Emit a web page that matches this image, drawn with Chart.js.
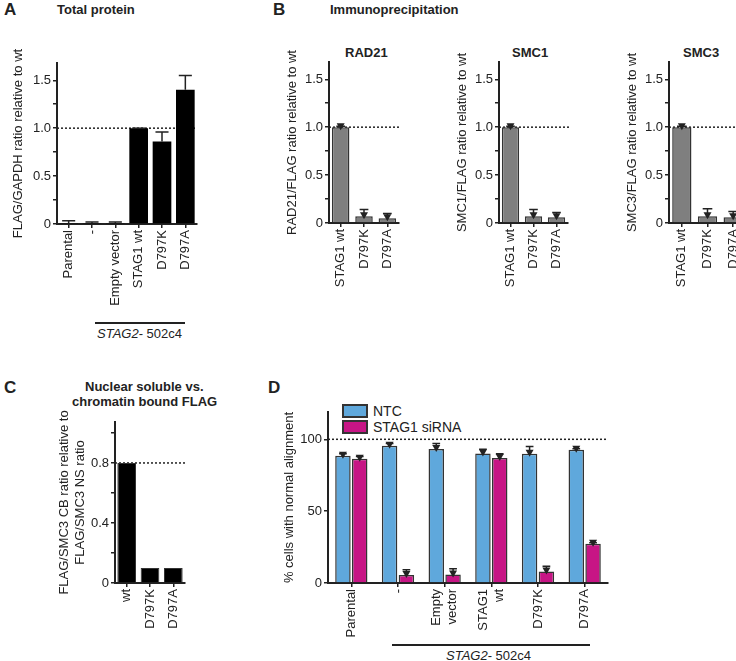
<!DOCTYPE html>
<html>
<head>
<meta charset="utf-8">
<script src="https://cdn.jsdelivr.net/npm/chart.js@4.4.1/dist/chart.umd.min.js"></script>
<style>
  body { margin: 0; width: 736px; height: 661px; position: relative; overflow: hidden; background: #fff;
         font-family: "Liberation Sans", Arial, sans-serif; color: #222; }
  canvas { position: absolute; }
  .t { position: absolute; white-space: nowrap; font-size: 13px; }
  .b { font-weight: bold; }
  .letter { position: absolute; font-weight: bold; font-size: 17px; }
  .rule { position: absolute; height: 1.5px; background: #222; }
  .lg { position: absolute; font-size: 14px; line-height: 15px; }
  .sw { display: inline-block; width: 22px; height: 10px; border: 2px solid #333; vertical-align: -2px; margin-right: 5px; }
</style>
</head>
<body>

<div class="letter" style="left:4px;top:0px">A</div>
<div class="t b" style="left:57px;top:2px">Total protein</div>
<div class="letter" style="left:273px;top:0px">B</div>
<div class="t b" style="left:330px;top:2px">Immunoprecipitation</div>
<div class="t b" style="left:345px;top:45px">RAD21</div>
<div class="t b" style="left:512px;top:45px">SMC1</div>
<div class="t b" style="left:683px;top:45px">SMC3</div>
<div class="letter" style="left:4px;top:378px">C</div>
<div class="t b" style="left:85px;top:379px">Nuclear soluble vs.</div>
<div class="t b" style="left:72px;top:394px">chromatin bound FLAG</div>
<div class="letter" style="left:268px;top:378px">D</div>

<div class="rule" style="left:95px;top:322px;width:90px"></div>
<div class="t" style="left:97px;top:326px"><i>STAG2</i>- 502c4</div>
<div class="rule" style="left:392px;top:644px;width:198px"></div>
<div class="t" style="left:446px;top:648px"><i>STAG2</i>- 502c4</div>

<div class="lg" style="left:342px;top:404px"><span class="sw" style="background:#5fa8dc"></span>NTC</div>
<div class="lg" style="left:342px;top:420px"><span class="sw" style="background:#c71585"></span>STAG1 siRNA</div>

<canvas id="cA" width="240" height="330" style="left:0;top:0"></canvas>
<canvas id="cRad" width="150" height="330" style="left:270px;top:0"></canvas>
<canvas id="cSmc1" width="150" height="330" style="left:440px;top:0"></canvas>
<canvas id="cSmc3" width="150" height="330" style="left:610px;top:0"></canvas>
<canvas id="cC" width="240" height="281" style="left:0;top:380px"></canvas>
<canvas id="cD" width="496" height="281" style="left:240px;top:380px"></canvas>

<script>
// ---- data ----
const totalLabels = ['Parental', '-', 'Empty vector', 'STAG1 wt', 'D797K', 'D797A'];
const totalValues = [0.01, 0.01, 0.01, 1.0, 0.86, 1.40];
const totalErrTop = [0.035, 0.02, 0.02, 1.0, 0.96, 1.55];

const ipLabels = ['STAG1 wt', 'D797K', 'D797A'];
const rad21Values = [1.0, 0.07, 0.05];
const rad21ErrTop = [1.01, 0.14, 0.10];
const smc1Values = [1.0, 0.07, 0.06];
const smc1ErrTop = [1.01, 0.14, 0.11];
const smc3Values = [1.0, 0.07, 0.06];
const smc3ErrTop = [1.01, 0.15, 0.12];

const fracLabels = ['wt', 'D797K', 'D797A'];
const fracValues = [0.8, 0.1, 0.1];

const alignLabels = ['Parental', '-', ['Empty', 'vector'], ['STAG1', 'wt'], 'D797K', 'D797A'];
const ntcValues = [88.5, 95.5, 93.3, 90.2, 90.0, 92.8];
const ntcErrTop = [90, 97, 97, 93, 95, 93.5];
const sirnaValues = [86.5, 5.5, 6.0, 87.0, 8.0, 27.4];
const sirnaErrTop = [88, 9.3, 10, 90, 11.6, 28];

Chart.defaults.font.family = '"Liberation Sans", Arial, sans-serif';
Chart.defaults.font.size = 13;
Chart.defaults.color = '#222';

const ink = '#222';

// dotted reference line + error bars; also centres two-line x labels on their tick
const extras = {
  id: 'extras',
  beforeDraw(chart) {
    const xs = chart.scales.x;
    xs.getLabelItems().forEach(it => {
      if (Array.isArray(it.label) && !it._moved) {
        it.options.translation[0] -= 8 * (it.label.length - 1);
        it._moved = true;
      }
    });
  },
  beforeDatasetsDraw(chart, args, opts) {
    if (opts.ref == null) return;
    const ctx = chart.ctx, area = chart.chartArea;
    const y = chart.scales.y.getPixelForValue(opts.ref);
    ctx.save();
    ctx.strokeStyle = ink;
    ctx.lineWidth = 1.5;
    ctx.setLineDash([2, 2]);
    ctx.beginPath();
    ctx.moveTo(area.left, y);
    ctx.lineTo(area.right + (opts.refExtra || 0), y);
    ctx.stroke();
    ctx.restore();
  },
  afterDatasetsDraw(chart, args, opts) {
    const ctx = chart.ctx, ys = chart.scales.y;
    (opts.err || []).forEach((errs, di) => {
      if (!errs) return;
      chart.getDatasetMeta(di).data.forEach((bar, i) => {
        const top = ys.getPixelForValue(errs[i]);
        const cap = bar.width * (opts.cap || 0.5) / 2;
        ctx.save();
        ctx.strokeStyle = ink;
        ctx.lineWidth = 1.5;
        ctx.beginPath();
        ctx.moveTo(bar.x, bar.y);
        ctx.lineTo(bar.x, top);
        ctx.moveTo(bar.x - cap, top);
        ctx.lineTo(bar.x + cap, top);
        ctx.stroke();
        if (opts.tri) {
          ctx.fillStyle = ink;
          ctx.beginPath();
          ctx.moveTo(bar.x - 4, bar.y - 4);
          ctx.lineTo(bar.x + 4, bar.y - 4);
          ctx.lineTo(bar.x, bar.y + 3);
          ctx.closePath();
          ctx.fill();
        }
        ctx.restore();
      });
    });
  }
};

function yScale(max, step, major, fmt, title, yWidth, titlePad) {
  return {
    min: 0, max: max,
    afterFit: s => { s.width = yWidth; },
    border: { display: true, color: ink, width: 2 },
    grid: { display: true, drawOnChartArea: false, drawTicks: true, tickLength: 4, color: ink, lineWidth: 1.5 },
    ticks: {
      stepSize: step, includeBounds: false, padding: 2,
      callback: v => {
        const r = v / major;
        if (Math.abs(r - Math.round(r)) < 1e-6) return fmt(v);
        return '';
      }
    },
    title: { display: true, text: title, padding: { top: titlePad, bottom: 0 }, font: { size: 13 } }
  };
}

function xScale(xHeight) {
  return {
    afterFit: s => { s.height = xHeight; },
    border: { display: true, color: ink, width: 2 },
    grid: { display: true, drawOnChartArea: false, offset: false, drawTicks: true, tickLength: 4, color: ink, lineWidth: 1.5 },
    ticks: { minRotation: 90, maxRotation: 90, autoSkip: false, padding: 2 }
  };
}

function barChart(id, labels, datasets, o) {
  return new Chart(document.getElementById(id), {
    type: 'bar',
    data: { labels: labels, datasets: datasets },
    options: {
      responsive: false,
      animation: false,
      devicePixelRatio: 1,
      layout: { padding: o.pad },
      scales: { x: xScale(o.xHeight), y: o.y },
      plugins: {
        legend: { display: false },
        tooltip: { enabled: false },
        extras: o.extras
      }
    },
    plugins: [extras]
  });
}

const fmt1 = v => v === 0 ? '0' : v.toFixed(1);

// A: total protein
barChart('cA', totalLabels, [{
  data: totalValues, backgroundColor: '#000', borderWidth: 0,
  categoryPercentage: 1, barPercentage: 0.8
}], {
  pad: { left: 0, top: 63, right: 43, bottom: 0 }, xHeight: 106,
  y: yScale(1.68, 0.25, 0.5, fmt1, 'FLAG/GAPDH ratio relative to wt', 57, 11),
  extras: { ref: 1.0, err: [totalErrTop], cap: 0.7 }
});

// B: immunoprecipitation
function ipChart(id, values, errTop, title, right, extra) {
  barChart(id, ipLabels, [{
    data: values, backgroundColor: '#7f7f7f', borderColor: '#333', borderWidth: 1.5,
    categoryPercentage: 1, barPercentage: 0.75
  }], {
    pad: { left: 0, top: 62, right: right, bottom: 0 }, xHeight: 107,
    y: yScale(1.68, 0.25, 0.5, fmt1, title, 59, 15),
    extras: { ref: 1.0, refExtra: extra, err: [errTop], cap: 0.5, tri: true }
  });
}
ipChart('cRad', rad21Values, rad21ErrTop, 'RAD21/FLAG ratio relative to wt', 21, 1);
ipChart('cSmc1', smc1Values, smc1ErrTop, 'SMC1/FLAG ratio relative to wt', 22, 2);
ipChart('cSmc3', smc3Values, smc3ErrTop, 'SMC3/FLAG ratio relative to wt', 14, 20);

// C: nuclear soluble vs chromatin bound
barChart('cC', fracLabels, [{
  data: fracValues, backgroundColor: '#000', borderColor: '#333', borderWidth: 1,
  categoryPercentage: 1, barPercentage: 0.8
}], {
  pad: { left: 0, top: 42, right: 55, bottom: 0 }, xHeight: 78,
  y: yScale(1.073, 0.2, 0.4, v => v === 0 ? '0' : v.toFixed(1),
    ['FLAG/SMC3 CB ratio relative to', 'FLAG/SMC3 NS ratio'], 115, 57),
  extras: { ref: 0.8, refExtra: 2 }
});

// D: alignment
barChart('cD', alignLabels, [
  { label: 'NTC', data: ntcValues, backgroundColor: '#5fa8dc', borderColor: '#333', borderWidth: 1.5,
    categoryPercentage: 0.72, barPercentage: 0.92 },
  { label: 'STAG1 siRNA', data: sirnaValues, backgroundColor: '#c71585', borderColor: '#333', borderWidth: 1.5,
    categoryPercentage: 0.72, barPercentage: 0.92 }
], {
  pad: { left: 0, top: 32, right: 128, bottom: 0 }, xHeight: 78,
  y: yScale(119, 50, 50, v => String(v), '% cells with normal alignment', 88, 42),
  extras: { ref: 100, err: [ntcErrTop, sirnaErrTop], cap: 0.5, tri: true }
});
</script>
</body>
</html>
